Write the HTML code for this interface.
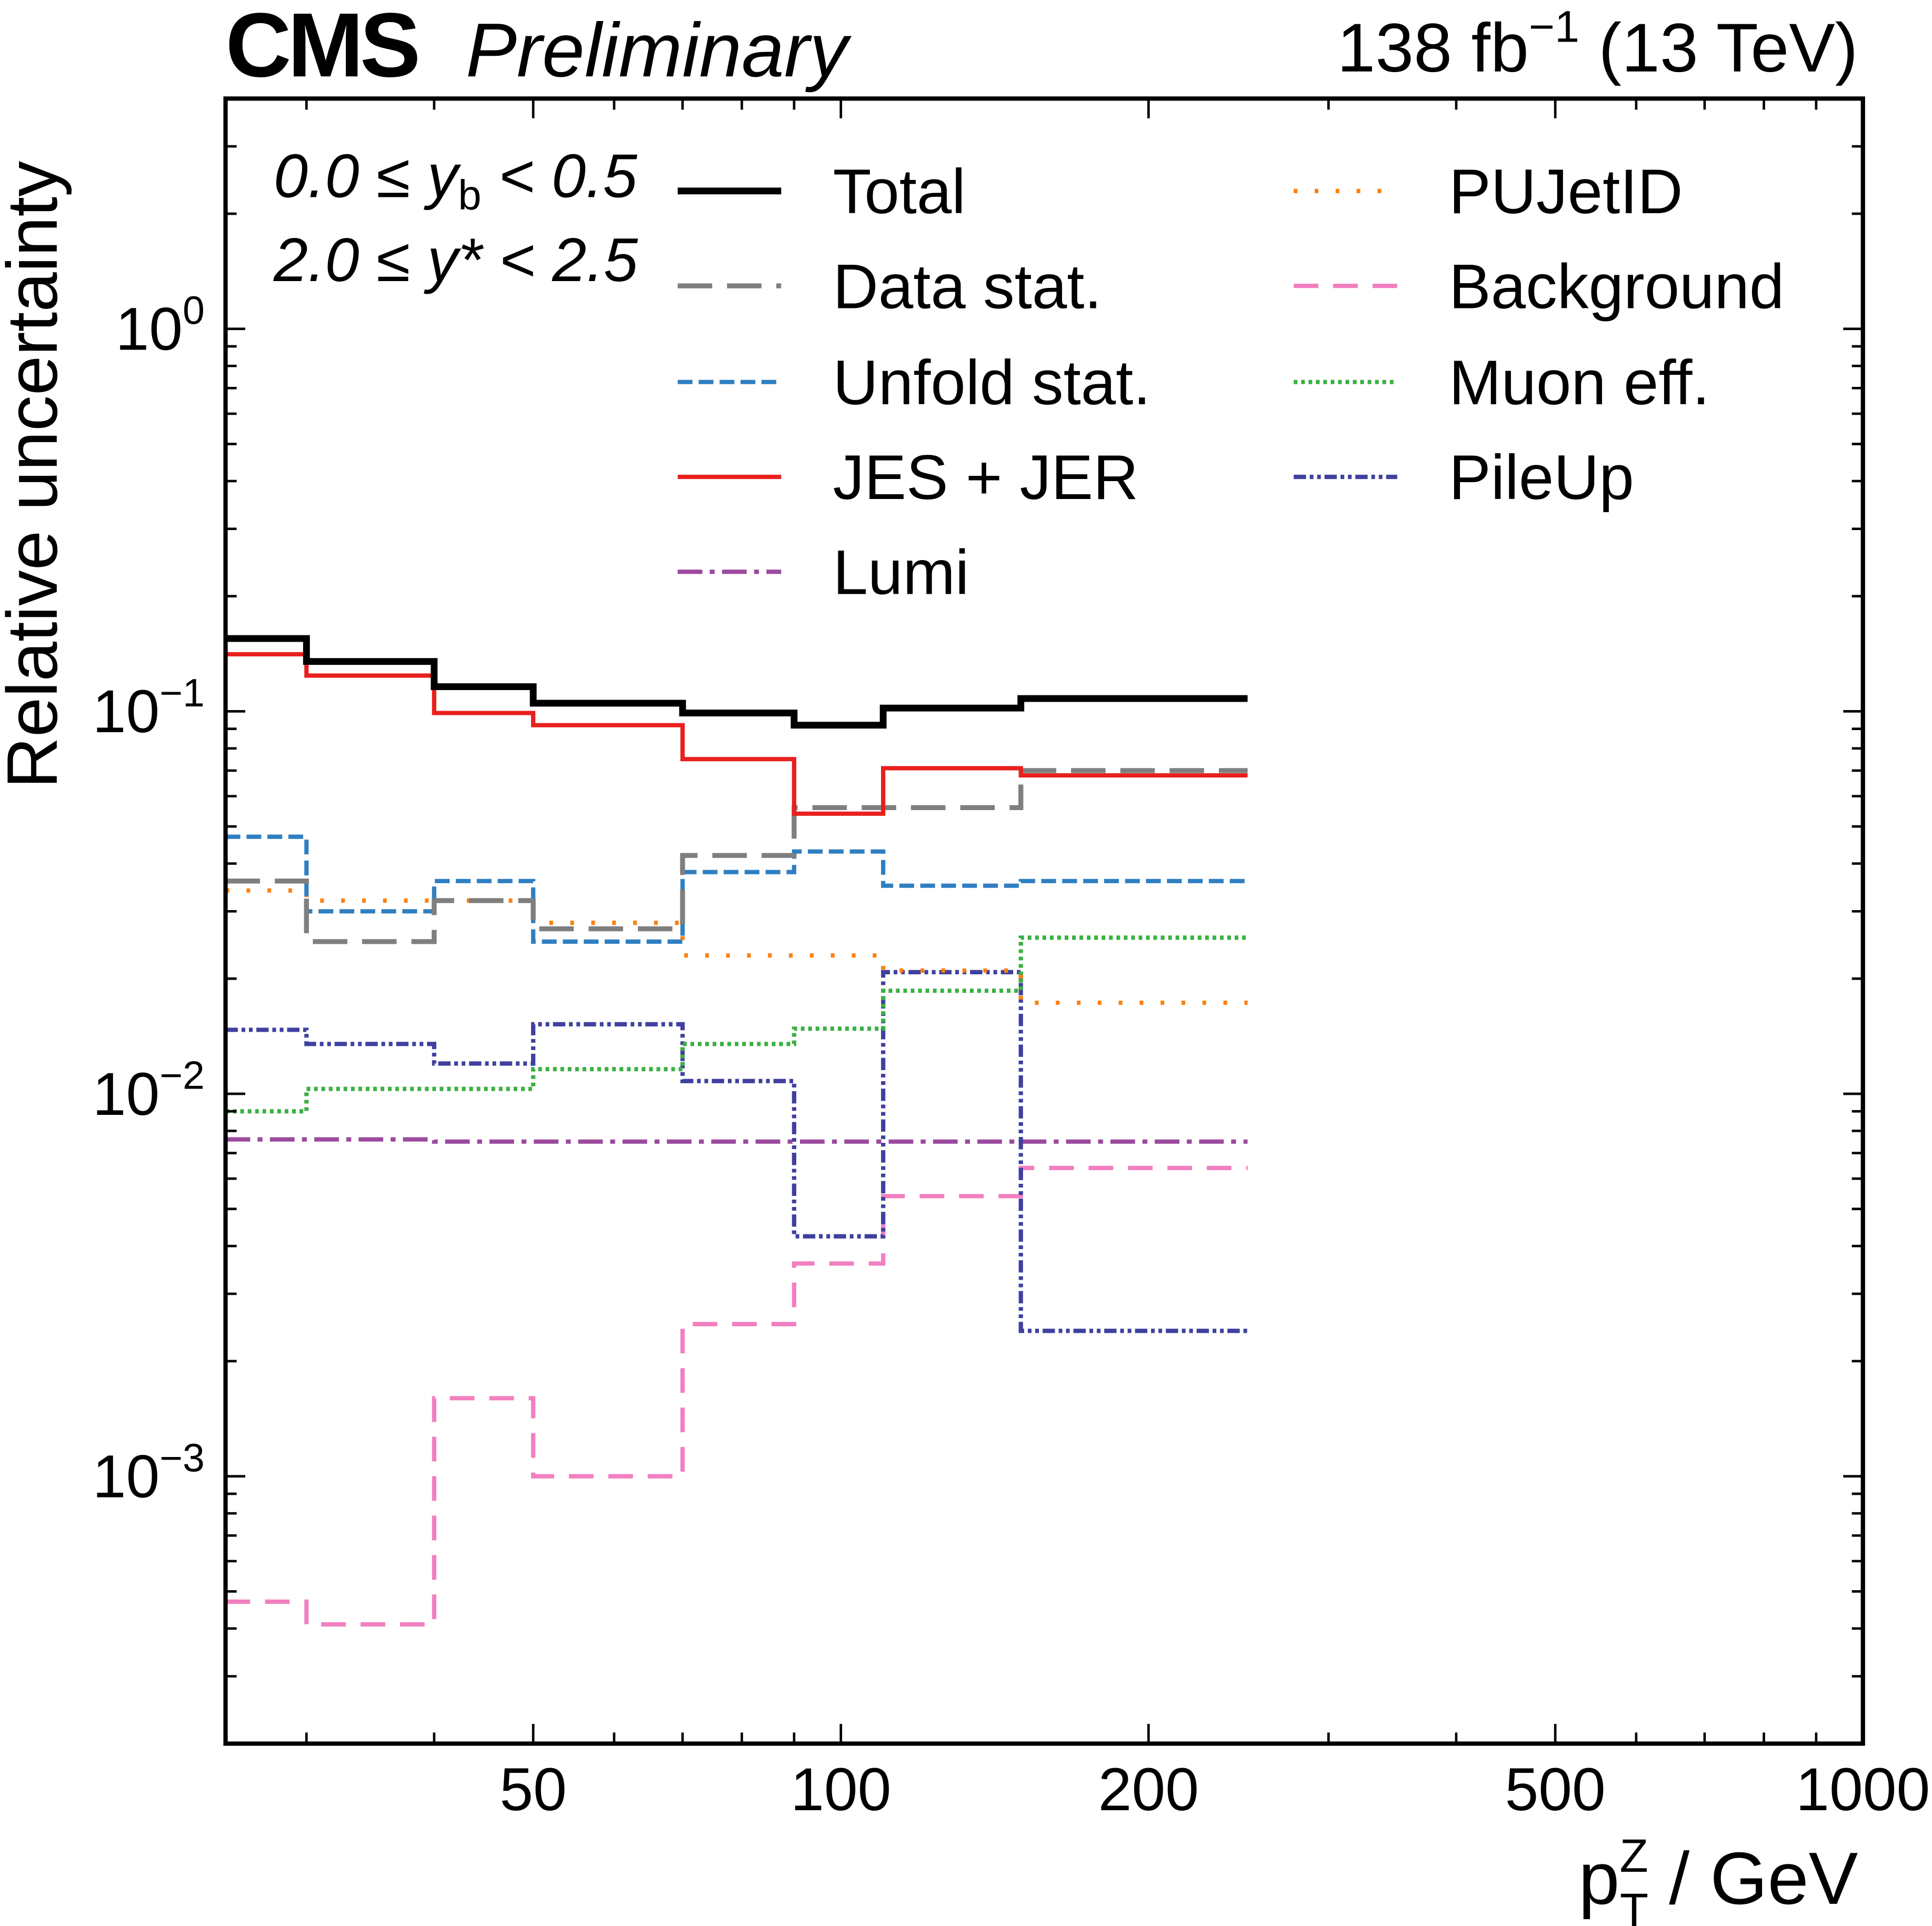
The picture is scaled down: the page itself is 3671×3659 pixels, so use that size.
<!DOCTYPE html>
<html><head><meta charset="utf-8"><style>
html,body{margin:0;padding:0;background:#fff;}
svg{display:block;font-family:"Liberation Sans",sans-serif;}
</style></head><body>
<svg id="chart" width="3671" height="3659" viewBox="0 0 1568 1563" xmlns="http://www.w3.org/2000/svg">
<g id="plot"></g>
<text x="183" y="62" font-size="74" font-weight="bold" letter-spacing="-3">CMS</text>
<text x="378" y="62" font-size="62" font-style="italic">Preliminary</text>
<text x="1508" y="58" font-size="56" text-anchor="end">138 fb<tspan font-size="36" dy="-24">−1</tspan><tspan dy="24"> (13 TeV)</tspan></text>
<text transform="translate(46,640) rotate(-90)" font-size="58">Relative uncertainty</text>
<text x="1508" y="1545" font-size="60" text-anchor="end">p<tspan font-size="38" dy="-26">Z</tspan><tspan font-size="38" dx="-23" dy="44">T</tspan><tspan dy="-18"> / GeV</tspan></text>
<text x="222" y="160" font-size="50" font-style="italic">0.0 ≤ y<tspan font-style="normal" font-size="34" dy="10">b</tspan><tspan dy="-10"> &lt; 0.5</tspan></text>
<text x="222" y="228" font-size="50" font-style="italic">2.0 ≤ y* &lt; 2.5</text>
</svg>
<script>
const edges=[25,30,40,50,70,90,110,150,250];
const seriesNames=["Total","Data stat.","Unfold stat.","JES + JER","Lumi","PUJetID","Background","Muon eff.","PileUp"];
const totalVals=[0.155,0.135,0.116,0.105,0.099,0.092,0.102,0.108];
const dataStatVals=[0.036,0.025,0.032,0.027,0.042,0.056,0.056,0.070];
const unfoldVals=[0.047,0.030,0.036,0.025,0.038,0.043,0.035,0.036];
const jesVals=[0.141,0.124,0.099,0.092,0.075,0.054,0.071,0.068];
const lumiVals=[0.0076,0.0076,0.0075,0.0075,0.0075,0.0075,0.0075,0.0075];
const pujetVals=[0.034,0.032,0.032,0.028,0.023,0.023,0.021,0.0173];
const bkgVals=[0.00047,0.00041,0.0016,0.0010,0.0025,0.0036,0.0054,0.0064];
const muonVals=[0.0090,0.0103,0.0103,0.0116,0.0135,0.0148,0.0186,0.0256];
const pileupVals=[0.0147,0.0135,0.0120,0.0152,0.0108,0.00424,0.0208,0.0024];
const xTickVals=[50,100,200,500,1000];
const xTickLabels=["50","100","200","500","1000"];
const yTickVals=[1,0.1,0.01,0.001];
const yTickExps=["0","−1","−2","−3"];

const L=183,R=1512,T=80,B=1415;
const xmin=25,xmax=1000,ymin=2e-4,ymax=4;
const X=v=>L+(Math.log10(v)-Math.log10(xmin))/(Math.log10(xmax)-Math.log10(xmin))*(R-L);
const Y=v=>B-(Math.log10(v)-Math.log10(ymin))/(Math.log10(ymax)-Math.log10(ymin))*(B-T);
const NS="http://www.w3.org/2000/svg";
const g=document.getElementById('plot');
function mk(t,a){const e=document.createElementNS(NS,t);for(const k in a)e.setAttribute(k,a[k]);g.appendChild(e);return e;}

const styles=[
 {c:"#000",w:5.5,d:""},
 {c:"#7f7f7f",w:4,d:"28,12"},
 {c:"#2f7fc1",w:3.5,d:"12,5"},
 {c:"#e8201e",w:3.5,d:""},
 {c:"#9b4a9e",w:3.5,d:"20,6,4,6"},
 {c:"#ff7f0e",w:3.5,d:"3,14"},
 {c:"#f27fc0",w:3.5,d:"20,12"},
 {c:"#3cb043",w:3.5,d:"3,3"},
 {c:"#4040a0",w:3.5,d:"10,3,3,3,3,3"}
];
const allVals=[totalVals,dataStatVals,unfoldVals,jesVals,lumiVals,pujetVals,bkgVals,muonVals,pileupVals];
const drawOrder=[6,4,8,7,5,2,1,3,0];
drawOrder.forEach(i=>{
  const v=allVals[i];let d="";
  for(let k=0;k<v.length;k++){
    d+=(k===0?"M":"L")+X(edges[k])+","+Y(v[k])+"L"+X(edges[k+1])+","+Y(v[k]);
  }
  const p=mk('path',{d:d,fill:"none",stroke:styles[i].c,"stroke-width":styles[i].w,"stroke-dasharray":styles[i].d});
  
  
});

const fr=mk('rect',{x:L,y:T,width:R-L,height:B-T,fill:"none",stroke:"#000","stroke-width":3.5});



for(let e=1;e<=3;e++)for(let m=1;m<10;m++){
  const v=m*Math.pow(10,e); if(v<xmin||v>xmax)continue;
  const x=X(v);
  const major=xTickVals.includes(v);const l=major?16:9;
  mk('line',{x1:x,y1:B,x2:x,y2:B-l,stroke:"#000","stroke-width":2});
  mk('line',{x1:x,y1:T,x2:x,y2:T+l,stroke:"#000","stroke-width":2});
}
xTickVals.forEach((v,i)=>{
  const t=mk('text',{x:X(v),y:B+54,"font-size":49,"text-anchor":"middle"});
  t.textContent=xTickLabels[i];
  
  
});
for(let e=-4;e<=0;e++)for(let m=1;m<10;m++){
  const v=m*Math.pow(10,e); if(v<ymin||v>ymax)continue;
  const y=Y(v),l=m===1?16:9;
  mk('line',{x1:L,y1:y,x2:L+l,y2:y,stroke:"#000","stroke-width":2});
  mk('line',{x1:R,y1:y,x2:R-l,y2:y,stroke:"#000","stroke-width":2});
}
yTickVals.forEach((v,i)=>{
  const t=mk('text',{x:166,y:Y(v)+17,"font-size":49,"text-anchor":"end"});
  t.innerHTML='10<tspan font-size="32" dy="-21">'+yTickExps[i]+'</tspan>';
  
  
});

const legPos=[[550,676,155],[550,676,232],[550,676,310],[550,676,387],[550,676,464],[1050,1176,155],[1050,1176,232],[1050,1176,310],[1050,1176,387]];
seriesNames.forEach((n,i)=>{
  const [lx,tx,y]=legPos[i];
  const ln=mk('line',{x1:lx,y1:y,x2:lx+84,y2:y,stroke:styles[i].c,"stroke-width":styles[i].w,"stroke-dasharray":styles[i].d});
  
  
  const t=mk('text',{x:tx,y:y+18,"font-size":51});
  t.textContent=n;
  
  
});
</script>
</body></html>
